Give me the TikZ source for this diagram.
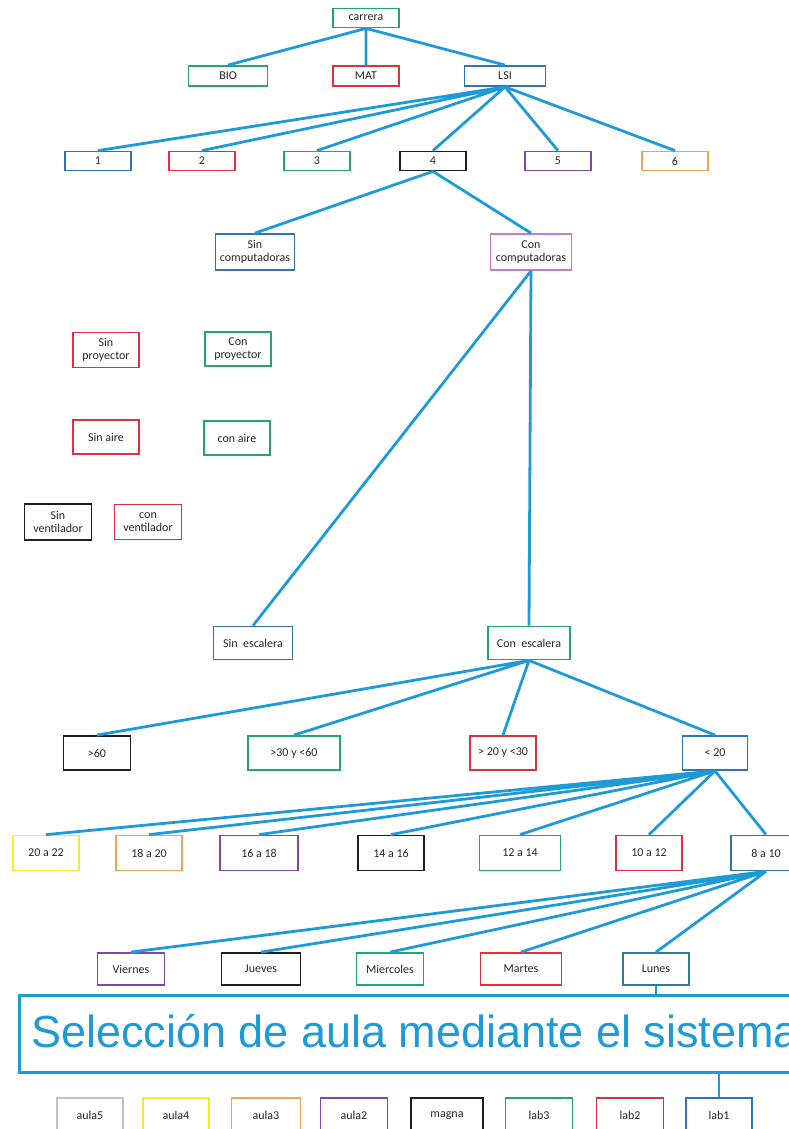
\documentclass[tikz,border=0pt]{standalone}
\usepackage{fontspec}
\setmainfont{Carlito}
\newfontfamily\titlefont{Liberation Sans}
\usepackage{tikz}

\definecolor{linea}{RGB}{30,155,215}
\definecolor{verde}{RGB}{35,165,110}
\definecolor{rojo}{RGB}{220,50,60}
\definecolor{azul}{RGB}{45,115,190}
\definecolor{acero}{RGB}{50,120,150}
\definecolor{morado}{RGB}{130,70,170}
\definecolor{naranja}{RGB}{245,160,85}
\definecolor{rosa}{RGB}{200,120,200}
\definecolor{amarillo}{RGB}{248,238,40}
\definecolor{gris}{RGB}{195,195,195}
\definecolor{negro}{RGB}{30,30,30}

\begin{document}
\begin{tikzpicture}[x=1pt,y=-1pt,
	box/.style={draw=#1,line width=1.8pt,minimum width=66pt,minimum height=19pt,
		inner sep=1pt,align=center,text=black!85,font=\fontsize{12}{13.5}\selectfont},
	line/.style={draw=linea,line width=2.8pt}]
	\useasboundingbox (0,0) rectangle (789,1129);
	\clip (0,0) rectangle (789,1129);
		% carrera
		\node[box=verde] (car) at (366,18) {carrera};
		\node[box=verde,minimum width=79pt,minimum height=20pt] (bio) at (228,76) {BIO};
		\node[box=rojo,minimum height=20pt] (mat) at (366,76) {MAT};
		\node[box=azul,minimum width=81pt,minimum height=20pt] (lsi) at (505,76) {LSI};
		% anios
		\node[box=azul] (a1) at (98,161) {1};
		\node[box=rojo] (a2) at (202,161) {2};
		\node[box=verde] (a3) at (317,161) {3};
		\node[box=negro] (a4) at (433,161) {4};
		\node[box=morado] (a5) at (558,161) {5};
		\node[box=naranja] (a6) at (675,161) {6};
		% computadoras
		\node[box=azul,minimum width=79pt,minimum height=36pt] (sinc) at (255,252) {Sin\\computadoras};
		\node[box=rosa,minimum width=81pt,minimum height=36pt] (conc) at (531,252) {Con\\computadoras};
		% sueltos
		\node[box=rojo,minimum height=35pt] (sinp) at (106,350) {Sin\\proyector};
		\node[box=verde,minimum height=34pt] (conp) at (238,349) {Con\\proyector};
		\node[box=rojo,minimum height=34pt] (sina) at (106,437) {Sin aire};
		\node[box=verde,minimum height=34pt] (cona) at (237,438) {con aire};
		\node[box=negro,minimum width=67pt,minimum height=36pt] (sinv) at (58,522) {Sin\\ventilador};
		\node[box=rojo,minimum width=67pt,minimum height=35pt] (conv) at (148,522) {con\\ventilador};
		% escalera
		\node[box=acero,minimum width=79pt,minimum height=33pt] (sine) at (253,643) {Sin~~escalera};
		\node[box=verde,minimum width=82pt,minimum height=33pt] (cone) at (529,643) {Con~~escalera};
		% capacidad
		\node[box=negro,minimum width=67pt,minimum height=34pt] (c60) at (97,753) {>60};
		\node[box=verde,minimum width=92pt,minimum height=34pt] (c30) at (294,753) {>30 y <60};
		\node[box=rojo,minimum height=34pt] (c20) at (503,753) {> 20 y <30};
		\node[box=azul,minimum width=65pt,minimum height=34pt] (m20) at (715,753) {< 20};
		% horarios
		\node[box=amarillo,minimum height=35pt] (h20) at (46,853) {20 a 22};
		\node[box=naranja,minimum height=35pt] (h18) at (149,853) {18 a 20};
		\node[box=morado,minimum width=78pt,minimum height=35pt] (h16) at (259,853) {16 a 18};
		\node[box=negro,minimum height=35pt] (h14) at (391,853) {14 a 16};
		\node[box=verde,minimum width=81pt,minimum height=35pt] (h12) at (520,853) {12 a 14};
		\node[box=rojo,minimum height=35pt] (h10) at (649,853) {10 a 12};
		\node[box=acero,minimum width=70pt,minimum height=35pt] (h8) at (766,853) {8 a 10};
		% dias
		\node[box=morado,minimum width=67pt,minimum height=32pt] (vie) at (131,969) {Viernes};
		\node[box=negro,minimum width=79pt,minimum height=32pt] (jue) at (261,969) {Jueves};
		\node[box=verde,minimum width=67pt,minimum height=32pt] (mie) at (390,969) {Miercoles};
		\node[box=rojo,minimum width=81pt,minimum height=32pt] (mar) at (521,969) {Martes};
		\node[box=acero,minimum height=32pt] (lun) at (656,969) {Lunes};
		% sistema
		\node[draw=linea,line width=3pt,anchor=north west,minimum width=820pt,
			minimum height=77pt,inner sep=0pt] (sel) at (18,994) {};
		\node[anchor=base west,inner sep=0pt,text=linea,
			font=\titlefont\fontsize{45}{50}\selectfont] (seltxt) at (31,1047)
			{Selección de aula mediante el sistema};
		% aulas
		\node[box=gris,minimum height=34pt] (au5) at (90,1115) {aula5};
		\node[box=amarillo,minimum height=34pt] (au4) at (176,1115) {aula4};
		\node[box=naranja,minimum width=69pt,minimum height=34pt] (au3) at (266,1115) {aula3};
		\node[box=morado,minimum width=67pt,minimum height=34pt] (au2) at (354,1115) {aula2};
		\node[box=negro,minimum width=72pt,minimum height=34pt] (mag) at (447,1115) {\strut magna};
		\node[box=verde,minimum width=67pt,minimum height=34pt] (lb3) at (539,1115) {lab3};
		\node[box=rojo,minimum width=67pt,minimum height=34pt] (lb2) at (630,1115) {lab2};
		\node[box=azul,minimum height=34pt] (lb1) at (719,1115) {lab1};
		% conexiones
		\draw[line] (car.south) -- (bio.north) (car.south) -- (mat.north) (car.south) -- (lsi.north);
		\draw[line] (lsi.south) -- (a1.north) (lsi.south) -- (a2.north) (lsi.south) -- (a3.north)
			(lsi.south) -- (a4.north) (lsi.south) -- (a5.north) (lsi.south) -- (a6.north);
		\draw[line] (a4.south) -- (sinc.north) (a4.south) -- (conc.north);
		\draw[line] (conc.south) -- (sine.north) (conc.south) -- (cone.north);
		\draw[line] (cone.south) -- (c60.north) (cone.south) -- (c30.north)
			(cone.south) -- (c20.north) (cone.south) -- (m20.north);
		\draw[line] (m20.south) -- (h20.north) (m20.south) -- (h18.north) (m20.south) -- (h16.north)
			(m20.south) -- (h14.north) (m20.south) -- (h12.north) (m20.south) -- (h10.north)
			(m20.south) -- (h8.north);
		\draw[line] (h8.south) -- (vie.north) (h8.south) -- (jue.north) (h8.south) -- (mie.north)
			(h8.south) -- (mar.north) (h8.south) -- (lun.north);
		\draw[line,line width=2.2pt] (lun.south) -- (lun.south |- sel.north);
		\draw[line,line width=2.2pt] (lb1.north) -- (lb1.north |- sel.south);
\end{tikzpicture}
\end{document}
